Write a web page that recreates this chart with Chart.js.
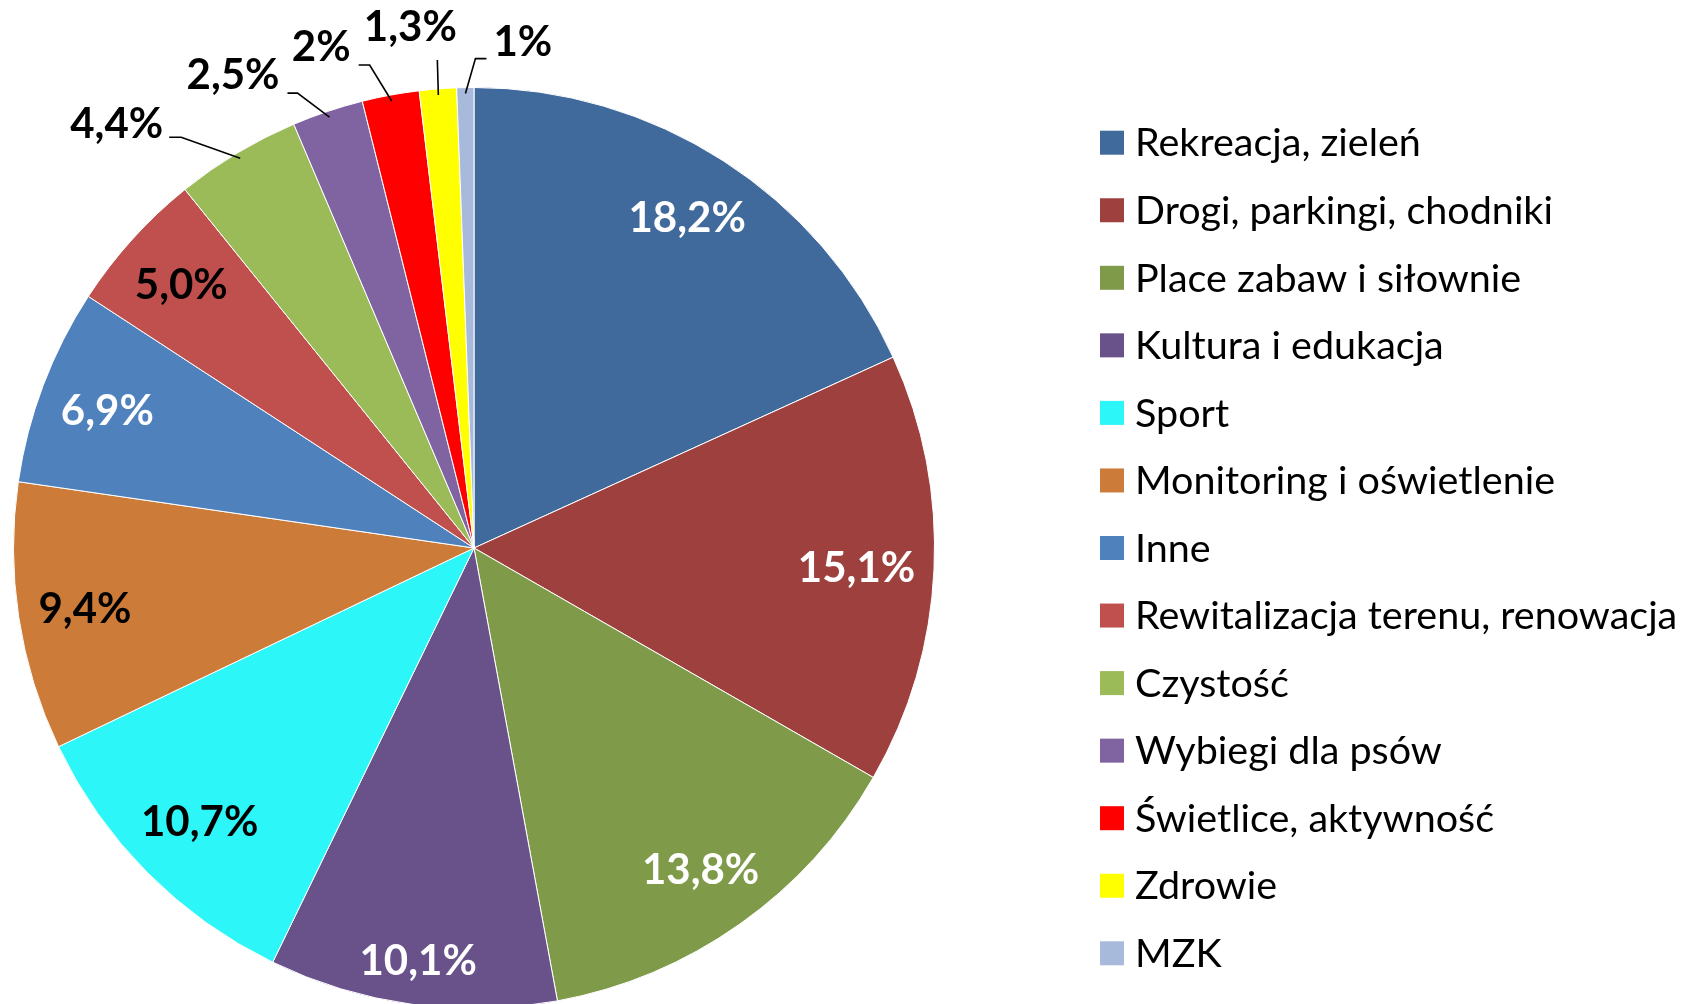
<!DOCTYPE html>
<html>
<head>
<meta charset="utf-8">
<script src="https://cdn.jsdelivr.net/npm/chart.js@4.4.1/dist/chart.umd.min.js"></script>
<style>
  html, body { margin: 0; padding: 0; background: #fff; overflow: hidden; }
  #wrap { width: 1699px; height: 1004px; overflow: hidden; position: relative; }
  #pie { position: absolute; left: 0; top: 0; }
</style>
</head>
<body>
<div id="wrap"><canvas id="pie" width="1699" height="1096"></canvas></div>
<script>
// categories, in clockwise order from 12 o'clock
const categories = [
    'Rekreacja, zieleń',
    'Drogi, parkingi, chodniki',
    'Place zabaw i siłownie',
    'Kultura i edukacja',
    'Sport',
    'Monitoring i oświetlenie',
    'Inne',
    'Rewitalizacja terenu, renowacja',
    'Czystość',
    'Wybiegi dla psów',
    'Świetlice, aktywność',
    'Zdrowie',
    'MZK'
];

// share of answers in %
const shares = [18.2, 15.1, 13.8, 10.1, 10.7, 9.4, 6.9, 5.0, 4.4, 2.5, 2.0, 1.3, 0.6];

// labels as printed on the chart
const shareLabels = ['18,2%', '15,1%', '13,8%', '10,1%', '10,7%', '9,4%', '6,9%', '5,0%', '4,4%', '2,5%', '2%', '1,3%', '1%'];

const sliceColors = [
    '#406A9B', '#9E413E', '#7F9B4A', '#69518A', '#2CF6F8', '#CC7B38', '#4F81BD',
    '#C0504D', '#9BBB59', '#8064A2', '#FF0000', '#FFFF00', '#A8BADB'
];

// label colour for inside labels
const labelInk = ['#fff', '#fff', '#fff', '#fff', '#000', '#000', '#fff', '#000'];

// small slices: labels outside with a leader line
// knee: offset of the bend from the slice edge, tail: horizontal part, text: offset of the text from the bend end
const outsideLabels = {
    8:  { knee: [-59, -21], tail: -12, align: 'right', text: [-6, -13] },
    9:  { knee: [-32, -24], tail: -10, align: 'right', text: [-8, -18] },
    10: { knee: [-22, -36], tail: -11, align: 'right', text: [-8, -18] },
    11: { knee: [-1, -35],  tail: 0,   align: 'center', text: [-27, -32] },
    12: { knee: [10, -35],  tail: 11,  align: 'left', text: [7, -16] }
};

const labelFont = 'bold 42px Lato';
const legendFont = '39.5px Lato';

const pieLabels = {
    id: 'pieLabels',
    afterDatasetsDraw(chart) {
        const ctx = chart.ctx;
        const arcs = chart.getDatasetMeta(0).data;
        ctx.save();
        ctx.font = labelFont;
        ctx.textBaseline = 'middle';
        arcs.forEach((arc, i) => {
            const mid = (arc.startAngle + arc.endAngle) / 2;
            const cx = Math.cos(mid), cy = Math.sin(mid);
            const r = arc.outerRadius;
            const txt = shareLabels[i];
            const spec = outsideLabels[i];
            if (!spec) {
                const w = ctx.measureText(txt).width;
                const d = r - 18 - (Math.abs(cx) * w / 2 + Math.abs(cy) * 20);
                ctx.fillStyle = labelInk[i];
                ctx.textAlign = 'center';
                ctx.fillText(txt, arc.x + cx * d, arc.y + cy * d + 2);
                return;
            }
            const ex = arc.x + cx * (r - 6), ey = arc.y + cy * (r - 6);
            const kx = ex + spec.knee[0], ky = ey + spec.knee[1];
            const tx = kx + spec.tail;
            ctx.strokeStyle = '#000';
            ctx.lineWidth = 1.6;
            ctx.beginPath();
            ctx.moveTo(ex, ey);
            ctx.lineTo(kx, ky);
            ctx.lineTo(tx, ky);
            ctx.stroke();
            ctx.fillStyle = '#000';
            ctx.textAlign = spec.align;
            ctx.fillText(txt, tx + spec.text[0], ky + spec.text[1]);
        });
        ctx.restore();
    }
};

const sideLegend = {
    id: 'sideLegend',
    afterDraw(chart) {
        const ctx = chart.ctx;
        const arc = chart.getDatasetMeta(0).data[0];
        const step = 67.55;
        const top = arc.y - step * (categories.length - 1) / 2;
        ctx.save();
        ctx.font = legendFont;
        ctx.textBaseline = 'middle';
        ctx.textAlign = 'left';
        categories.forEach((name, i) => {
            const y = top + i * step;
            ctx.fillStyle = sliceColors[i];
            ctx.fillRect(1100, y - 12, 24, 24);
            ctx.fillStyle = '#000';
            ctx.fillText(name, 1135, y + 1);
        });
        ctx.restore();
    }
};

new Chart(document.getElementById('pie'), {
    type: 'pie',
    data: {
        labels: categories,
        datasets: [{
            data: shares,
            backgroundColor: sliceColors,
            borderColor: '#fff',
            borderWidth: 1
        }]
    },
    options: {
        responsive: false,
        animation: false,
        layout: { padding: { left: 13, right: 764, top: 87, bottom: 87 } },
        plugins: {
            legend: { display: false },
            tooltip: { enabled: false }
        }
    },
    plugins: [pieLabels, sideLegend]
});
</script>
</body>
</html>
